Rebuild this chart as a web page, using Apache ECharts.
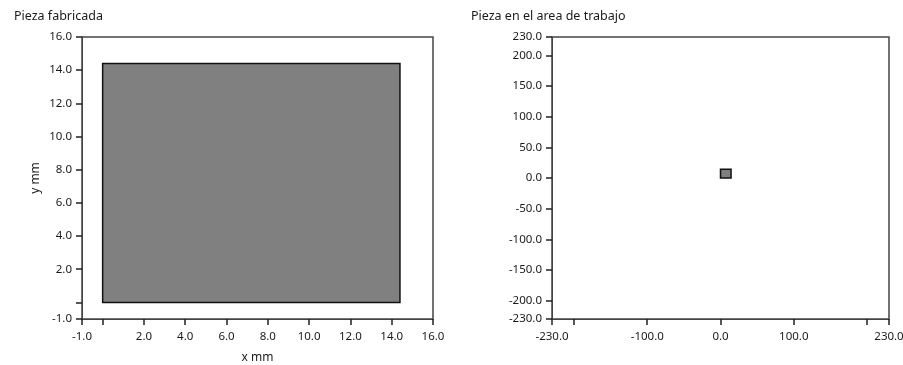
<!DOCTYPE html>
<html><head><meta charset="utf-8">
<script src="https://cdn.jsdelivr.net/npm/echarts@6/dist/echarts.min.js"></script>
<style>html,body{margin:0;padding:0;background:#fff}#c{width:903px;height:365px}</style>
</head><body><div id="c"></div>
<script>
// Piece rectangle [x0, y0, x1, y1] in mm
const piece = [[0, 0, 14.4, 14.4]];

// Left chart ticks
const leftXTicks = [-1, 0, 2, 4, 6, 8, 10, 12, 14, 16];
const leftXLabels = [-1, 2, 4, 6, 8, 10, 12, 14, 16];
const leftYTicks = [-1, 0, 2, 4, 6, 8, 10, 12, 14, 16];
const leftYLabels = [-1, 2, 4, 6, 8, 10, 12, 14, 16];

// Right chart ticks
const rightXTicks = [-230, -200, -100, 0, 100, 200, 230];
const rightXLabels = [-230, -100, 0, 100, 230];
const rightYTicks = [230, 200, 150, 100, 50, 0, -50, -100, -150, -200, -230];
const rightYLabels = [230, 200, 150, 100, 50, 0, -50, -100, -150, -200, -230];

const titles = ['Pieza fabricada', 'Pieza en el area de trabajo'];

const FONT = 'Noto Sans';
const txt = {fontFamily: FONT, fontSize: 12, color: '#1a1a1a'};
const tickTxt = {fontFamily: FONT, fontSize: 11.5, color: '#1a1a1a'};

function axis(min, max, ticks, labels, margin, extra) {
  return Object.assign({
    type: 'value', min: min, max: max,
    splitLine: {show: false},
    axisLine: {show: true, onZero: false, lineStyle: {color: '#444', width: 1}},
    axisTick: {show: true, length: 6, lineStyle: {color: '#222', width: 1.5}, customValues: ticks},
    axisLabel: Object.assign({margin: margin, customValues: labels, formatter: v => Number(v).toFixed(1)}, tickTxt)
  }, extra || {});
}

function rectItem(params, api) {
  const p0 = api.coord([api.value(0), api.value(1)]);
  const p1 = api.coord([api.value(2), api.value(3)]);
  return {
    type: 'rect',
    shape: {x: Math.min(p0[0], p1[0]), y: Math.min(p0[1], p1[1]), width: Math.abs(p1[0] - p0[0]), height: Math.abs(p1[1] - p0[1])},
    style: {fill: '#808080', stroke: '#111', lineWidth: 1.5}
  };
}

const chart = echarts.init(document.getElementById('c'), null, {renderer: 'canvas'});
chart.setOption({
  animation: false,
  backgroundColor: '#fff',
  title: [
    {text: titles[0], left: 9, top: 5, textStyle: Object.assign({}, txt, {fontSize: 12.5, fontWeight: 'normal'})},
    {text: titles[1], left: 466, top: 5, textStyle: Object.assign({}, txt, {fontSize: 12.5, fontWeight: 'normal'})}
  ],
  grid: [
    {left: 82, right: 470, top: 37, bottom: 46, outerBoundsMode: 'none', containLabel: false, show: true, borderColor: '#444', borderWidth: 1.5, backgroundColor: '#fff'},
    {left: 552, right: 14, top: 37, bottom: 46, outerBoundsMode: 'none', containLabel: false, show: true, borderColor: '#444', borderWidth: 1.5, backgroundColor: '#fff'}
  ],
  xAxis: [
    axis(-1, 16, leftXTicks, leftXLabels, 12, {gridIndex: 0, name: 'x mm', nameLocation: 'middle', nameGap: 33, nameTextStyle: txt}),
    axis(-230, 230, rightXTicks, rightXLabels, 12, {gridIndex: 1})
  ],
  yAxis: [
    axis(-1, 16, leftYTicks, leftYLabels, 10, {gridIndex: 0, name: 'y mm', nameLocation: 'middle', nameGap: 40, nameRotate: 90, nameTextStyle: txt}),
    axis(-230, 230, rightYTicks, rightYLabels, 10, {gridIndex: 1})
  ],
  series: [
    {type: 'custom', xAxisIndex: 0, yAxisIndex: 0, data: piece, renderItem: rectItem, clip: true},
    {type: 'custom', xAxisIndex: 1, yAxisIndex: 1, data: piece, renderItem: rectItem, clip: true}
  ]
});
</script></body></html>
